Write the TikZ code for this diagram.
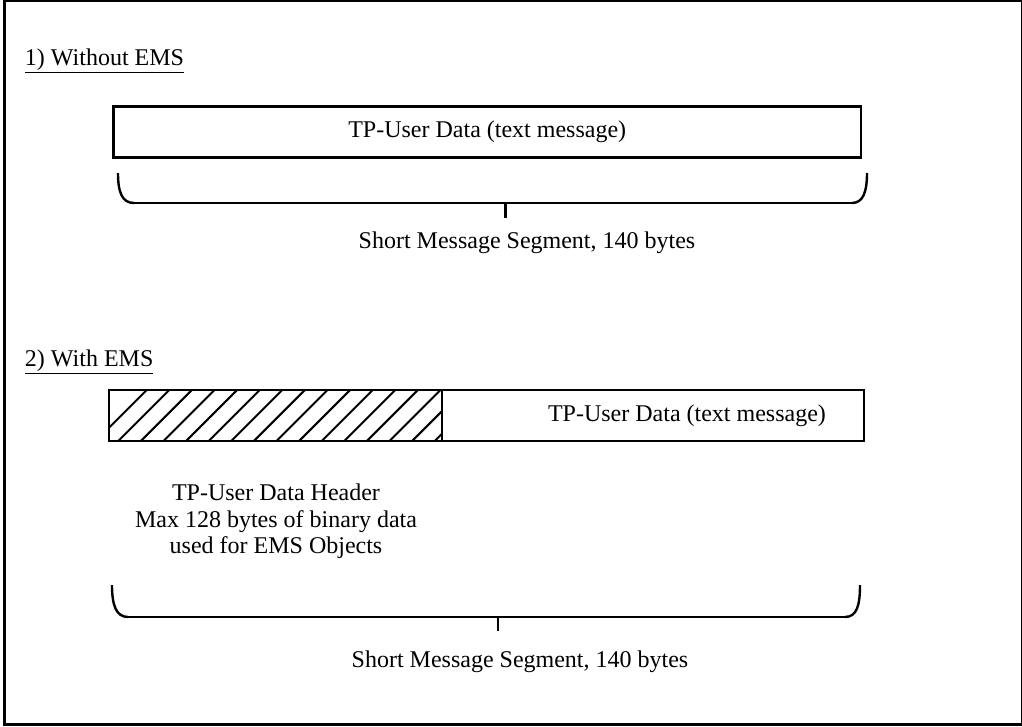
\documentclass[tikz,border=0pt]{standalone}
\usepackage{fontspec}
\setmainfont{Liberation Serif}
\begin{document}
\begin{tikzpicture}[x=0.75pt,y=-0.75pt,
  font=\fontsize{18pt}{20.25pt}\selectfont,
  every node/.style={inner sep=0pt, outer sep=0pt},
  frame/.style={line width=2.3pt},
  segbox/.style={draw, line width=2pt},
  hatchline/.style={line width=1.5pt},
  hook/.style={line width=1.8pt},
  span/.style={line width=0.9pt},
  tick/.style={line width=1.6pt}]
\useasboundingbox (0,0) rectangle (1022,726);
% outer frame, its top and right edges partly beyond the page
\draw[frame] (4.7,0.2) rectangle (1022.3,724.7);

% --- 1) Without EMS ---
\node[anchor=base west] (lab1) at (25,65) {\underline{1) Without EMS}};
\node[segbox, minimum width=747.5*0.75pt, minimum height=51*0.75pt, anchor=north west]
  (ud1) at (113.5,106.7) {TP-User Data (text message)};
\coordinate (b1l) at (118,173);
\coordinate (b1a) at (134,203);
\coordinate (b1b) at (852,203);
\coordinate (b1r) at (867,173);
\coordinate (t1a) at (505.5,203);
\coordinate (t1b) at (505.5,218);
\draw[hook] (b1l) .. controls (118,192) and (122,203) .. (b1a);
\draw[span] (b1a) -- (b1b);
\draw[hook] (b1b) .. controls (863,203) and (867,192) .. (b1r);
\draw[tick] (t1a) -- (t1b);
\node[anchor=base] (seg1) at (527,248) {Short Message Segment, 140 bytes};

% --- 2) With EMS ---
\node[anchor=base west] (lab2) at (25,366) {\underline{2) With EMS}};
\node[segbox, minimum width=755*0.75pt, minimum height=51*0.75pt, anchor=north west]
  (box2) at (109,390) {};
% hatched user data header part
\begin{scope}
  \clip (109,390) rectangle (442,441);
  \foreach \i in {0,...,16}
    \draw[hatchline] ({95.7+22.6*\i},441) -- ({95.7+22.6*\i+51},390);
\end{scope}
\node[segbox, minimum width=333*0.75pt, minimum height=51*0.75pt, anchor=north west]
  (udh) at (109,390) {};
\node (ud2) at (687,415.5) {TP-User Data (text message)};
\node[anchor=base] (hdr1) at (276,500) {TP-User Data Header};
\node[anchor=base] (hdr2) at (276,527) {Max 128 bytes of binary data};
\node[anchor=base] (hdr3) at (276,553) {used for EMS Objects};
\coordinate (b2l) at (112,585);
\coordinate (b2a) at (128,617);
\coordinate (b2b) at (845,617);
\coordinate (b2r) at (860,585);
\coordinate (t2a) at (498,617);
\coordinate (t2b) at (498,631);
\draw[hook] (b2l) .. controls (112,605) and (116,617) .. (b2a);
\draw[span] (b2a) -- (b2b);
\draw[hook] (b2b) .. controls (857,617) and (860,605) .. (b2r);
\draw[tick] (t2a) -- (t2b);
\node[anchor=base] (seg2) at (520,667) {Short Message Segment, 140 bytes};
\end{tikzpicture}
\end{document}
